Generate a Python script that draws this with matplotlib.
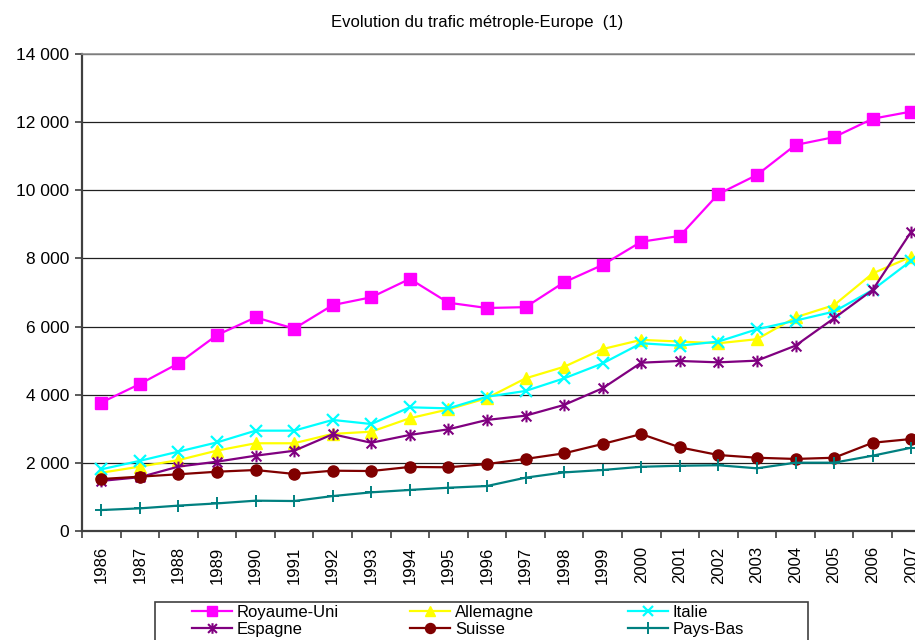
import matplotlib
matplotlib.use("Agg")
import matplotlib.pyplot as plt
from matplotlib.path import Path
from matplotlib.patches import Rectangle
from matplotlib.ticker import FuncFormatter, FixedLocator, NullFormatter

plt.rcParams['font.family'] = ['Liberation Sans', 'DejaVu Sans']

years = [str(y) for y in range(1986, 2008)]

royaume_uni = [3770, 4315, 4920, 5750, 6270, 5940, 6630, 6860, 7400, 6700, 6545, 6570,
               7300, 7810, 8490, 8660, 9890, 10450, 11330, 11560, 12100, 12310]
allemagne = [1710, 1890, 2080, 2360, 2575, 2575, 2850, 2915, 3310, 3570, 3900, 4480,
             4820, 5340, 5610, 5560, 5510, 5630, 6270, 6630, 7560, 8050]
italie = [1810, 2060, 2330, 2600, 2945, 2945, 3260, 3140, 3630, 3600, 3940, 4110,
          4480, 4920, 5510, 5440, 5560, 5920, 6175, 6440, 7075, 7935]
espagne = [1470, 1580, 1890, 2035, 2210, 2355, 2840, 2590, 2820, 2985, 3260, 3385,
           3700, 4190, 4940, 4990, 4950, 5000, 5440, 6245, 7075, 8785]
suisse = [1525, 1595, 1665, 1740, 1790, 1675, 1770, 1760, 1880, 1870, 1965, 2115,
          2280, 2555, 2845, 2455, 2230, 2150, 2115, 2150, 2590, 2700]
pays_bas = [615, 665, 745, 810, 890, 880, 1025, 1135, 1205, 1270, 1320, 1565,
            1720, 1790, 1885, 1915, 1930, 1840, 2005, 2005, 2210, 2445]

title = "Evolution du trafic métrople-Europe  (1)"

# Asterisk marker: an "x" crossed by a vertical bar
star_path = Path(
    [(-1, -1), (1, 1), (-1, 1), (1, -1), (0, -1.2), (0, 1.2)],
    [Path.MOVETO, Path.LINETO, Path.MOVETO, Path.LINETO, Path.MOVETO, Path.LINETO],
)

series = [
    ("Royaume-Uni", royaume_uni, "#FF00FF", "s", 8.0, dict(mec="#FF00FF", mfc="#FF00FF")),
    ("Allemagne", allemagne, "#FFFF00", "^", 8.0, dict(mec="#FFFF00", mfc="#FFFF00")),
    ("Italie", italie, "#00FFFF", "x", 8.5, dict(mec="#00FFFF", mew=1.6)),
    ("Espagne", espagne, "#800080", star_path, 8.5, dict(mec="#800080", mew=1.5)),
    ("Suisse", suisse, "#800000", "o", 8.0, dict(mec="#800000", mfc="#800000")),
    ("Pays-Bas", pays_bas, "#008080", "+", 9.0, dict(mec="#008080", mew=1.4)),
]

W, H = 915, 640
fig = plt.figure(figsize=(W / 100, H / 100), dpi=100)

ax_left, ax_right, ax_top, ax_bottom = 82, 930.5, 54, 531
ax = fig.add_axes([ax_left / W, 1 - ax_bottom / H, (ax_right - ax_left) / W, (ax_bottom - ax_top) / H])

x = list(range(len(years)))
handles = {}
for name, vals, color, marker, ms, kw in series:
    ln, = ax.plot(x, vals, color=color, lw=1.6, marker=marker, ms=ms, label=name,
                  clip_on=False, zorder=3, **kw)
    handles[name] = ln

ax.set_xlim(-0.5, len(years) - 0.5)
ax.set_ylim(0, 14000)

# y axis
ax.set_yticks(range(0, 14001, 2000))
ax.yaxis.set_major_formatter(FuncFormatter(lambda v, p: f"{int(v):,}".replace(",", " ")))
ax.tick_params(axis='y', direction='out', length=5, width=1.2, color='#404040',
               labelsize=12.5, pad=4)
ax.yaxis.grid(True, color='#202020', lw=0.9)
ax.set_axisbelow(True)

# x axis: ticks between categories, labels at category centres
ax.xaxis.set_major_locator(FixedLocator([i - 0.5 for i in range(len(years) + 1)]))
ax.xaxis.set_major_formatter(NullFormatter())
ax.xaxis.set_minor_locator(FixedLocator(x))
ax.set_xticklabels(years, minor=True, rotation=90, fontsize=12)
ax.tick_params(axis='x', which='major', direction='out', length=5, width=1.2, color='#404040')
ax.tick_params(axis='x', which='minor', length=0, pad=11)

ax.spines['right'].set_visible(False)
ax.spines['top'].set_color('#909090')
ax.spines['top'].set_linewidth(1.2)
ax.spines['left'].set_color('#404040')
ax.spines['left'].set_linewidth(1.6)
ax.spines['bottom'].set_color('#404040')
ax.spines['bottom'].set_linewidth(1.6)

fig.text(477 / W, 1 - 22 / H, title, ha='center', va='center', fontsize=12)

# legend frame
fig.add_artist(Rectangle((155 / W, -0.05), (808 - 155) / W, (640 - 602) / H + 0.05,
                         transform=fig.transFigure, fill=False, ec='#404040', lw=1.2))

columns = [["Royaume-Uni", "Espagne"], ["Allemagne", "Suisse"], ["Italie", "Pays-Bas"]]
col_x = [192, 410, 628]
for names, cx in zip(columns, col_x):
    fig.legend([handles[n] for n in names], names, loc='upper left',
               bbox_to_anchor=(cx / W, 1 - 605 / H), frameon=False, fontsize=12,
               borderpad=0, borderaxespad=0, handlelength=2.4, handletextpad=0.3,
               labelspacing=0.1, markerscale=0.9)

fig.savefig("out.png", dpi=100)
